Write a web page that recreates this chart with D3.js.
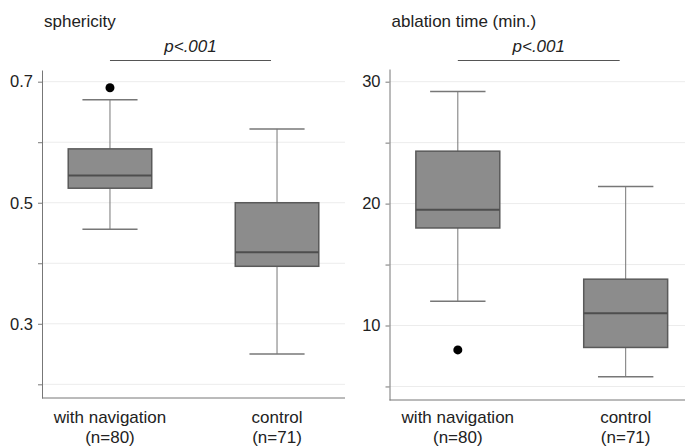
<!DOCTYPE html>
<html lang="en"><head>
<meta charset="utf-8">
<title>Box plots</title>
<script src="https://cdnjs.cloudflare.com/ajax/libs/d3/7.8.5/d3.min.js"></script>
<style>
  body { margin: 0; background: #fff; }
  text { font-family: "Liberation Sans", Arial, sans-serif; fill: #222; }
</style>
</head>
<body>
<div id="chart"></div>
<script type="text/javascript">

// groups on the x axis
var groups = ["with navigation", "control"];
var groupN = ["(n=80)", "(n=71)"];

// [lower whisker, Q1, median, Q3, upper whisker]
var sphericityBox = [[0.456, 0.524, 0.545, 0.589, 0.670], [0.250, 0.395, 0.418, 0.500, 0.622]];
var sphericityOutliers = [[0.690], []];
var sphericityTicks = [0.2, 0.3, 0.4, 0.5, 0.6, 0.7];
var sphericityLabels = [0.3, 0.5, 0.7];

var timeBox = [[12.0, 18.0, 19.5, 24.3, 29.2], [5.8, 8.2, 11.0, 13.8, 21.4]];
var timeOutliers = [[8.0], []];
var timeTicks = [5, 10, 15, 20, 25, 30];
var timeLabels = [10, 20, 30];

var svg = d3.select("#chart").append("svg").attr("width", 685).attr("height", 446);

function drawPanel(opt) {
  var g = svg.append("g");
  var x = d3.scalePoint().domain(groups).range([opt.x0, opt.x1]).padding(0.407);
  var y = d3.scaleLinear().domain(opt.domain).range([opt.bottom, opt.top]);
  var step = x.step();
  var boxW = step * 0.5, capW = step * 0.33;

  // grid
  g.selectAll(".grid").data(opt.ticks).enter().append("line")
    .attr("x1", opt.x0).attr("x2", opt.gridEnd)
    .attr("y1", function(d){ return y(d); }).attr("y2", function(d){ return y(d); })
    .attr("stroke", "#ececec").attr("stroke-width", 1);

  // y axis
  var ax = g.append("g").attr("transform", "translate(" + opt.x0 + ",0)")
    .call(d3.axisLeft(y).tickValues(opt.ticks).tickSize(4).tickSizeOuter(0).tickPadding(5)
      .tickFormat(function(d){ return opt.labels.indexOf(d) >= 0 ? opt.fmt(d) : ""; }));
  ax.select(".domain").attr("stroke", "#777");
  ax.selectAll(".tick line").attr("stroke", "#777");
  ax.selectAll(".tick text").style("font-size", "16.5px").attr("fill", "#222");

  // x axis line
  g.append("line").attr("x1", opt.x0).attr("x2", opt.gridEnd)
    .attr("y1", opt.bottom).attr("y2", opt.bottom).attr("stroke", "#777");

  groups.forEach(function(name, i) {
    var s = opt.box[i], cx = x(name);
    // whiskers
    g.append("line").attr("x1", cx).attr("x2", cx).attr("y1", y(s[0])).attr("y2", y(s[1])).attr("stroke", "#777");
    g.append("line").attr("x1", cx).attr("x2", cx).attr("y1", y(s[3])).attr("y2", y(s[4])).attr("stroke", "#777");
    [s[0], s[4]].forEach(function(v) {
      g.append("line").attr("x1", cx - capW / 2).attr("x2", cx + capW / 2)
        .attr("y1", y(v)).attr("y2", y(v)).attr("stroke", "#777").attr("stroke-width", 1.5);
    });
    // box
    g.append("rect").attr("x", cx - boxW / 2).attr("width", boxW)
      .attr("y", y(s[3])).attr("height", y(s[1]) - y(s[3]))
      .attr("fill", "#8c8c8c").attr("stroke", "#5a5a5a").attr("stroke-width", 1.5);
    g.append("line").attr("x1", cx - boxW / 2).attr("x2", cx + boxW / 2)
      .attr("y1", y(s[2])).attr("y2", y(s[2])).attr("stroke", "#4e4e4e").attr("stroke-width", 2);
    // outliers
    g.selectAll(null).data(opt.outliers[i]).enter().append("circle")
      .attr("cx", cx).attr("cy", function(d){ return y(d); }).attr("r", 4.5).attr("fill", "#000");
    // category labels
    g.append("text").attr("x", cx).attr("y", 423).attr("text-anchor", "middle")
      .style("font-size", "17px").text(name);
    g.append("text").attr("x", cx).attr("y", 443).attr("text-anchor", "middle")
      .style("font-size", "17px").text(groupN[i]);
  });

  // title
  g.append("text").attr("x", opt.x0 + 2).attr("y", 27).style("font-size", "17px").text(opt.title);

  // significance bar
  var a = x(groups[0]), b = x(groups[1]) - 6;
  g.append("line").attr("x1", a).attr("x2", b).attr("y1", 60.5).attr("y2", 60.5).attr("stroke", "#555");
  g.append("text").attr("x", (a + b) / 2).attr("y", 52).attr("text-anchor", "middle")
    .style("font-size", "17px").style("font-style", "italic").text("p<.001");
}

drawPanel({
  x0: 42, x1: 345, gridEnd: 345, top: 70, bottom: 398,
  domain: [0.1774, 0.7193], ticks: sphericityTicks, labels: sphericityLabels,
  fmt: d3.format(".1f"), box: sphericityBox, outliers: sphericityOutliers, title: "sphericity"
});

drawPanel({
  x0: 389.5, x1: 694, gridEnd: 685, top: 69, bottom: 400,
  domain: [3.89, 31.04], ticks: timeTicks, labels: timeLabels,
  fmt: d3.format("d"), box: timeBox, outliers: timeOutliers, title: "ablation time (min.)"
});

</script>
</body></html>
